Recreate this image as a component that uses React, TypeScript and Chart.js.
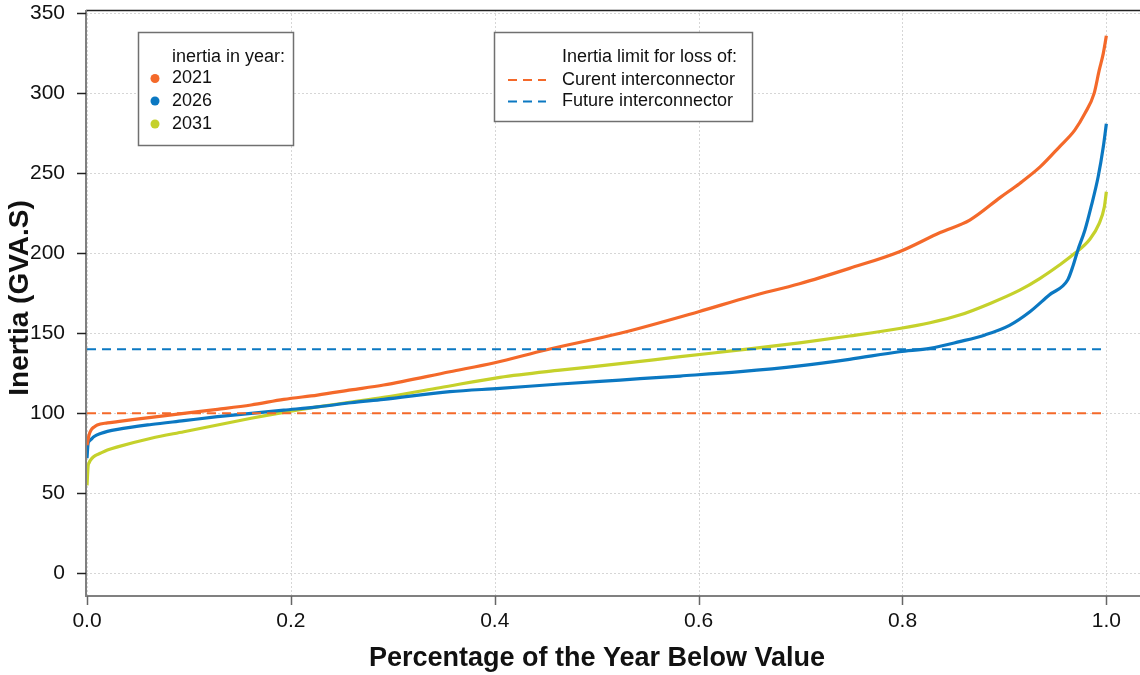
import React, { useEffect, useRef } from 'react';
import { Chart, registerables } from 'chart.js';

Chart.register(...registerables);

// ---- data ----
const x2021 = [0, 0.001, 0.002, 0.004, 0.007, 0.01, 0.02, 0.03, 0.063, 0.095, 0.128, 0.161, 0.193, 0.226, 0.259, 0.291, 0.356, 0.4, 0.45, 0.523, 0.6, 0.65, 0.699, 0.748, 0.797, 0.837, 0.866, 0.896, 0.915, 0.935, 0.954, 0.969, 0.979, 0.988, 0.993, 0.997, 1.0];
const v2021 = [80, 83.3, 86.5, 89.6, 91.5, 92.7, 94, 94.8, 97.5, 100, 102.5, 105.2, 108.7, 111.4, 114.6, 117.7, 126, 131.6, 139.6, 150, 163.5, 172.9, 181, 190.6, 201, 213, 220.8, 235, 243.7, 254, 266.6, 277, 287.5, 300, 314.5, 325, 336];

const x2026 = [0, 0.001, 0.002, 0.004, 0.007, 0.014, 0.02, 0.03, 0.063, 0.095, 0.128, 0.161, 0.193, 0.226, 0.259, 0.291, 0.356, 0.405, 0.464, 0.523, 0.582, 0.641, 0.699, 0.748, 0.797, 0.827, 0.856, 0.881, 0.905, 0.925, 0.944, 0.962, 0.967, 0.972, 0.979, 0.985, 0.992, 0.997, 1.0];
const v2026 = [72, 81, 82.5, 83.7, 85.5, 87.5, 88.7, 90, 93, 95.4, 97.9, 100, 102, 104, 106.6, 108.7, 113.5, 115.6, 118.3, 120.8, 123.3, 126, 129.6, 133.7, 138.5, 140.6, 144.8, 149, 155, 163.5, 174, 183.3, 191.6, 202, 214.6, 229, 248, 266.6, 281];

const x2031 = [0, 0.001, 0.002, 0.005, 0.008, 0.013, 0.02, 0.03, 0.063, 0.095, 0.128, 0.161, 0.193, 0.226, 0.259, 0.291, 0.346, 0.405, 0.464, 0.523, 0.582, 0.641, 0.699, 0.748, 0.797, 0.827, 0.856, 0.886, 0.915, 0.935, 0.954, 0.969, 0.984, 0.993, 0.998, 1.0];
const v2031 = [55, 66.6, 69, 72, 73.5, 75, 77, 79, 84.4, 88.5, 92.7, 96.9, 100.6, 104, 107, 110, 116, 122.5, 127, 131, 135.4, 139.6, 144, 148.3, 153, 156.6, 161.4, 168.7, 177, 184.4, 192.7, 200, 209, 218.7, 229, 238.5];

const limitLabels = ['Curent interconnector', 'Future interconnector'];
const limitValues = [100, 140];
const limitRange = [0, 1];

const yearLabels = ['2021', '2026', '2031'];
const xTicks = [0, 0.2, 0.4, 0.6, 0.8, 1.0];
const yTicks = [0, 50, 100, 150, 200, 250, 300, 350];
const xTitle = 'Percentage of the Year Below Value';
const yTitle = 'Inertia (GVA.S)';

const ORANGE = '#F4692A';
const BLUE = '#0B78C2';
const GREEN = '#C5D12B';
const FONT = "'Liberation Sans', Arial, sans-serif";

const toPts = (xs: number[], vs: number[]) => xs.map((x, i) => ({ x, y: vs[i] }));

const decor = {
  id: 'decor',
  beforeDatasetsDraw(chart: any) {
    const { ctx, chartArea, scales } = chart;
    const { left, right, top, bottom } = chartArea;
    ctx.save();
    ctx.strokeStyle = '#d6d6d6';
    ctx.lineWidth = 1;
    ctx.setLineDash([2, 2]);
    yTicks.forEach((v) => {
      const py = Math.round(scales.y.getPixelForValue(v)) + 0.5;
      ctx.beginPath(); ctx.moveTo(left, py); ctx.lineTo(right, py); ctx.stroke();
    });
    xTicks.forEach((v) => {
      const px = Math.round(scales.x.getPixelForValue(v)) + 0.5;
      ctx.beginPath(); ctx.moveTo(px, top); ctx.lineTo(px, bottom); ctx.stroke();
    });
    ctx.restore();
  },
  afterDatasetsDraw(chart: any) {
    const { ctx, chartArea, scales } = chart;
    const { left, right, top, bottom } = chartArea;
    ctx.save();
    ctx.setLineDash([]);
    // top border
    ctx.strokeStyle = '#222';
    ctx.lineWidth = 1.5;
    ctx.beginPath(); ctx.moveTo(left, top + 0.5); ctx.lineTo(right, top + 0.5); ctx.stroke();
    // left + bottom axis lines
    ctx.strokeStyle = '#808080';
    ctx.lineWidth = 2;
    ctx.beginPath(); ctx.moveTo(left, top); ctx.lineTo(left, bottom); ctx.lineTo(right, bottom); ctx.stroke();
    // y ticks
    ctx.strokeStyle = '#222';
    ctx.lineWidth = 1.5;
    yTicks.forEach((v) => {
      const py = Math.round(scales.y.getPixelForValue(v)) + 0.5;
      ctx.beginPath(); ctx.moveTo(left - 9, py); ctx.lineTo(left, py); ctx.stroke();
    });
    // x ticks
    ctx.strokeStyle = '#666';
    xTicks.forEach((v) => {
      const px = Math.round(scales.x.getPixelForValue(v)) + 0.5;
      ctx.beginPath(); ctx.moveTo(px, bottom); ctx.lineTo(px, bottom + 9); ctx.stroke();
    });

    // axis titles
    ctx.fillStyle = '#111';
    ctx.font = `bold 27px ${FONT}`;
    ctx.textAlign = 'center';
    ctx.textBaseline = 'middle';
    ctx.fillText(xTitle, 597, 659);
    ctx.save();
    ctx.translate(20, 298);
    ctx.rotate(-Math.PI / 2);
    ctx.font = `bold 28px ${FONT}`;
    ctx.fillText(yTitle, 0, 0);
    ctx.restore();

    // legend 1
    ctx.fillStyle = '#fff';
    ctx.fillRect(138, 32, 156, 114);
    ctx.strokeStyle = '#707070';
    ctx.lineWidth = 1.5;
    ctx.strokeRect(138.5, 32.5, 155, 113);
    ctx.font = `18px ${FONT}`;
    ctx.textBaseline = 'middle';
    ctx.textAlign = 'left';
    ctx.fillStyle = '#111';
    ctx.fillText('inertia in year:', 172, 57);
    const yearColors = [ORANGE, BLUE, GREEN];
    const yearY = [78.5, 101, 124];
    yearLabels.forEach((lab, i) => {
      ctx.fillStyle = yearColors[i];
      ctx.beginPath(); ctx.arc(155, yearY[i], 4.5, 0, Math.PI * 2); ctx.fill();
      ctx.fillStyle = '#111';
      ctx.fillText(lab, 172, yearY[i]);
    });

    // legend 2
    ctx.fillStyle = '#fff';
    ctx.fillRect(494, 32, 259, 90);
    ctx.strokeStyle = '#707070';
    ctx.strokeRect(494.5, 32.5, 258, 89);
    ctx.fillStyle = '#111';
    ctx.fillText('Inertia limit for loss of:', 562, 57);
    const limColors = [ORANGE, BLUE];
    const limY = [80, 101.5];
    limitLabels.forEach((lab, i) => {
      ctx.strokeStyle = limColors[i];
      ctx.lineWidth = 2;
      ctx.setLineDash([9, 6]);
      ctx.beginPath(); ctx.moveTo(508, limY[i]); ctx.lineTo(546, limY[i]); ctx.stroke();
      ctx.setLineDash([]);
      ctx.fillStyle = '#111';
      ctx.fillText(lab, 562, limY[i]);
    });
    ctx.restore();
  },
};

export default function App() {
  const ref = useRef<HTMLCanvasElement>(null);
  useEffect(() => {
    if (!ref.current) return;
    Chart.defaults.font.family = FONT;
    const curve = (label: string, xs: number[], vs: number[], color: string) => ({
      label, data: toPts(xs, vs), borderColor: color, borderWidth: 3.2, pointRadius: 0,
      cubicInterpolationMode: 'monotone',
    });
    const chart = new Chart(ref.current, {
      type: 'line',
      data: {
        datasets: [
          {
            label: limitLabels[0],
            data: limitRange.map((x) => ({ x, y: limitValues[0] })),
            borderColor: ORANGE, borderWidth: 2, borderDash: [9, 6], pointRadius: 0,
          },
          {
            label: limitLabels[1],
            data: limitRange.map((x) => ({ x, y: limitValues[1] })),
            borderColor: BLUE, borderWidth: 2, borderDash: [9, 6], pointRadius: 0,
          },
          curve(yearLabels[0], x2021, v2021, ORANGE),
          curve(yearLabels[1], x2026, v2026, BLUE),
          curve(yearLabels[2], x2031, v2031, GREEN),
        ],
      },
      options: {
        animation: false,
        responsive: false,
        layout: { padding: { top: 10, right: 0, left: 0, bottom: 0 } },
        plugins: { legend: { display: false }, tooltip: { enabled: false } },
        scales: {
          x: {
            type: 'linear',
            min: -0.001,
            max: 1.033,
            afterBuildTicks: (s: any) => { s.ticks = xTicks.map((v) => ({ value: v })); },
            afterFit: (s: any) => { s.height = 79; s.paddingLeft = 0; s.paddingRight = 0; },
            ticks: {
              callback: (v: any) => Number(v).toFixed(1),
              font: { size: 21 }, color: '#111', padding: 13, maxRotation: 0, autoSkip: false,
            },
            grid: { display: false, drawTicks: false },
            border: { display: false },
            title: { display: false },
          },
          y: {
            type: 'linear',
            min: -14.2,
            max: 352.1,
            afterBuildTicks: (s: any) => { s.ticks = yTicks.map((v) => ({ value: v })); },
            afterFit: (s: any) => { s.width = 86; s.paddingTop = 0; s.paddingBottom = 0; },
            ticks: { font: { size: 21 }, color: '#111', padding: 21, autoSkip: false },
            grid: { display: false, drawTicks: false },
            border: { display: false },
            title: { display: false },
          },
        },
      } as any,
      plugins: [decor],
    });
    return () => chart.destroy();
  }, []);
  return (
    <div style={{ position: 'absolute', left: 0, top: 0, width: 1140, height: 675, background: '#fff' }}>
      <canvas ref={ref} width={1140} height={675} style={{ width: 1140, height: 675, display: 'block' }} />
    </div>
  );
}
